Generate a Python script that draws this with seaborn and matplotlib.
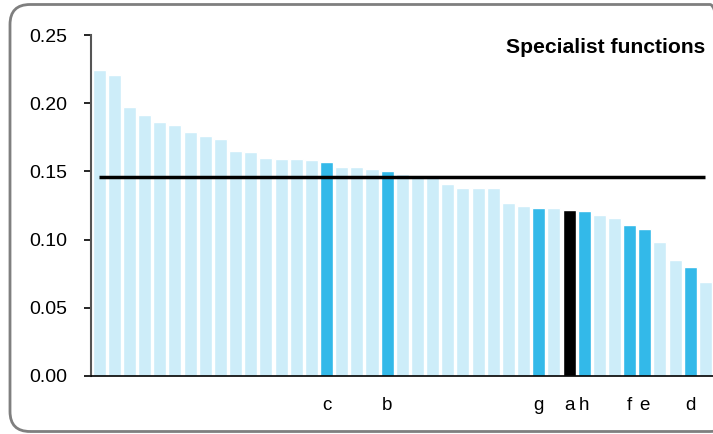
import matplotlib
matplotlib.use("Agg")
import matplotlib.pyplot as plt
from matplotlib.patches import FancyBboxPatch
from matplotlib.transforms import IdentityTransform
import seaborn as sns
import pandas as pd

values = [0.224, 0.221, 0.197, 0.191, 0.186, 0.184, 0.179, 0.176, 0.174,
          0.165, 0.164, 0.160, 0.159, 0.159, 0.158, 0.157, 0.153, 0.153,
          0.152, 0.150, 0.148, 0.146, 0.146, 0.141, 0.138, 0.138, 0.138,
          0.127, 0.125, 0.123, 0.123, 0.122, 0.121, 0.118, 0.116, 0.111,
          0.108, 0.098, 0.085, 0.080, 0.069]
labels = [""] * 15 + ["c", "", "", "", "b"] + [""] * 9 + ["g", "", "a", "h", "", "", "f", "e", "", "", "d", ""]
groups = (["other"] * 15 + ["peer"] + ["other"] * 3 + ["peer"] + ["other"] * 9
          + ["peer", "other", "self", "peer", "other", "other", "peer", "peer",
             "other", "other", "peer", "other"])
average = 0.146
title = "Specialist functions"
yticks = [0.00, 0.05, 0.10, 0.15, 0.20, 0.25]

palette = {"other": "#CDEDF9", "peer": "#33B9E9", "self": "#000000"}

df = pd.DataFrame({"pos": list(range(len(values))), "value": values, "group": groups})

sns.set_style("white")
plt.rcParams["font.family"] = ["Liberation Sans", "DejaVu Sans"]
plt.rcParams["text.color"] = "black"
plt.rcParams["xtick.color"] = "black"
plt.rcParams["ytick.color"] = "black"

fig = plt.figure(figsize=(7.13, 4.34), dpi=100)
ax = fig.add_axes([91 / 713, 58 / 434, 622 / 713, 341 / 434])

sns.barplot(data=df, x="pos", y="value", hue="group", palette=palette,
            dodge=False, width=0.86, saturation=1, legend=False, ax=ax,
            order=list(range(len(values))))

ax.plot([0, len(values) - 1], [average, average], color="black", lw=2.5,
        solid_capstyle="butt", zorder=5)

ax.set_xlim(-0.54, len(values) - 0.5)
ax.set_ylim(0, 0.25)
ax.set_yticks(yticks)
ax.set_yticklabels([f"{v:.2f}" for v in yticks], fontsize=14)
ax.set_xticks(range(len(values)))
ax.set_xticklabels(labels, fontsize=13.5)
ax.tick_params(axis="x", length=0, pad=15)
ax.tick_params(axis="y", length=5, width=1.2, direction="out", pad=12, left=True)
ax.set_xlabel("")
ax.set_ylabel("")
for s in ["top", "right"]:
    ax.spines[s].set_visible(False)
ax.spines["left"].set_color("#555555")
ax.spines["left"].set_linewidth(1.5)
ax.spines["bottom"].set_color("black")
ax.spines["bottom"].set_linewidth(1.2)

ax.text(0.987, 0.99, title, transform=ax.transAxes, ha="right", va="top",
        fontsize=15.2, fontweight="bold")

border = FancyBboxPatch((10, 2.5), 720, 427,
                        boxstyle="round,pad=0,rounding_size=20",
                        transform=IdentityTransform(), fill=False,
                        edgecolor="#7f7f7f", lw=2, clip_on=False)
fig.patches.append(border)

fig.savefig("out.png", dpi=100)
